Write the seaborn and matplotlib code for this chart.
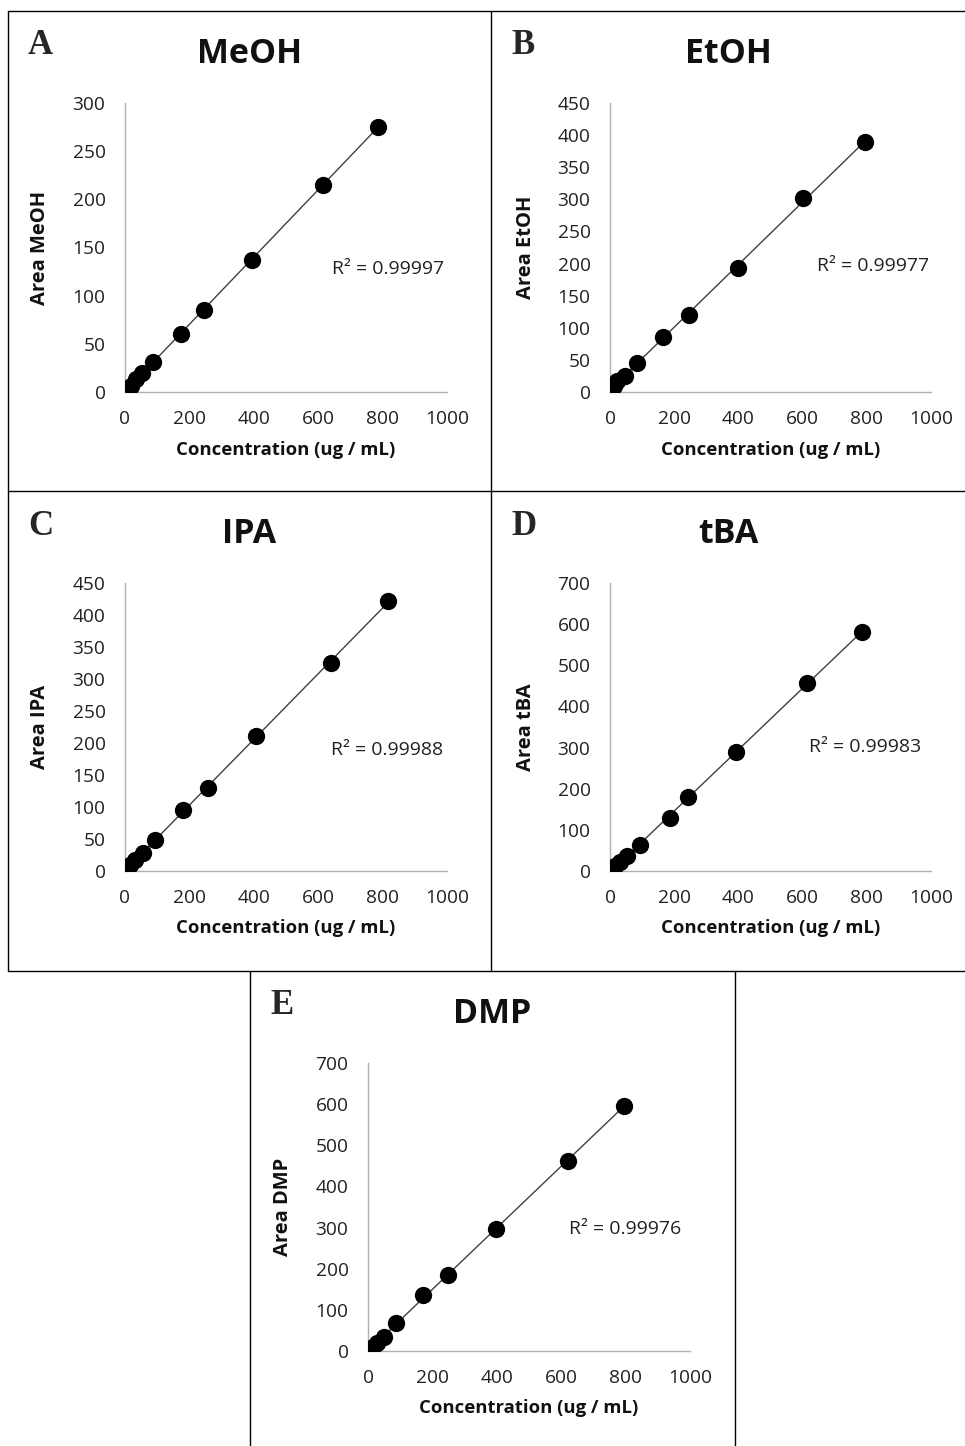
import numpy as np
import pandas as pd
import seaborn as sns
import matplotlib.pyplot as plt
from matplotlib.lines import Line2D

# calibration data
conc_meoh = [18, 33, 53, 87, 174, 244, 393, 614, 785]
area_meoh = [6, 13, 20, 31, 60, 85, 137, 215, 275]

conc_etoh = [12, 22, 47, 84, 165, 246, 399, 601, 794]
area_etoh = [9, 17, 25, 45, 86, 120, 193, 302, 389]

conc_ipa = [16, 31, 56, 93, 180, 258, 407, 640, 817]
area_ipa = [9, 17, 28, 48, 95, 130, 211, 325, 422]

conc_tba = [16, 31, 53, 93, 187, 243, 393, 614, 785]
area_tba = [12, 22, 36, 63, 129, 180, 290, 457, 581]

conc_dmp = [16, 28, 50, 87, 171, 248, 398, 621, 795]
area_dmp = [10, 20, 34, 68, 136, 185, 297, 462, 596]

compounds = ["MeOH", "EtOH", "IPA", "tBA", "DMP"]
letters = ["A", "B", "C", "D", "E"]
r2_labels = ["0.99997", "0.99977", "0.99988", "0.99983", "0.99976"]
y_max = [300, 450, 450, 700, 700]
y_step = [50, 50, 50, 100, 100]

W, H = 965, 1446
sns.set_style("white")
plt.rcParams["font.family"] = ["Open Sans", "DejaVu Sans"]

fig = plt.figure(figsize=(W / 100, H / 100), dpi=100)

# panel boxes (pixel coords): left, top, right, bottom
panels = [(8, 11, 491, 491), (491, 11, 965, 491), (8, 491, 491, 971),
          (491, 491, 965, 971), (250, 971, 735, 1446)]
# axes rectangles in pixels: x0, x1, y_bottom, y_top
axes_px = [(125, 447, 392, 103), (610, 931, 392, 103), (125, 447, 871, 583),
           (610, 931, 871, 583), (368, 690, 1351, 1063)]
r2_pos = [(0.817, 0.426), (0.82, 0.436), (0.814, 0.42), (0.794, 0.43), (0.797, 0.424)]

data = [(conc_meoh, area_meoh), (conc_etoh, area_etoh), (conc_ipa, area_ipa),
        (conc_tba, area_tba), (conc_dmp, area_dmp)]

def fx(p): return p / W
def fy(p): return 1 - p / H

# box borders
border = dict(color="black", lw=1.0, transform=fig.transFigure)
fig.add_artist(Line2D([fx(8), fx(965)], [fy(11), fy(11)], **border))
fig.add_artist(Line2D([fx(8), fx(965)], [fy(491), fy(491)], **border))
fig.add_artist(Line2D([fx(8), fx(965)], [fy(971), fy(971)], **border))
fig.add_artist(Line2D([fx(8), fx(8)], [fy(11), fy(971)], **border))
fig.add_artist(Line2D([fx(491), fx(491)], [fy(11), fy(971)], **border))
fig.add_artist(Line2D([fx(250), fx(250)], [fy(971), fy(1446)], **border))
fig.add_artist(Line2D([fx(735), fx(735)], [fy(971), fy(1446)], **border))

for i, name in enumerate(compounds):
    x0, x1, yb, yt = axes_px[i]
    ax = fig.add_axes([x0 / W, 1 - yb / H, (x1 - x0) / W, (yb - yt) / H])
    df = pd.DataFrame({"conc": data[i][0], "area": data[i][1]})
    sns.regplot(data=df, x="conc", y="area", ax=ax, ci=None,
                scatter_kws=dict(s=155, color="black", alpha=1, linewidths=0, zorder=3),
                line_kws=dict(color="#404040", lw=1.0, zorder=2))
    ax.set_xlim(0, 1000)
    ax.set_ylim(0, y_max[i])
    ax.set_xticks(np.arange(0, 1001, 200))
    ax.set_yticks(np.arange(0, y_max[i] + 1, y_step[i]))
    ax.tick_params(length=0, labelsize=13.8, labelcolor="#222222")
    ax.tick_params(axis="x", pad=13)
    ax.tick_params(axis="y", pad=14)
    sns.despine(ax=ax)
    for s in ("left", "bottom"):
        ax.spines[s].set_color("#b0b0b0")
        ax.spines[s].set_linewidth(1.0)
    ax.set_xlabel("Concentration (ug / mL)", fontsize=13.3, fontweight="bold", color="#111111")
    ax.set_ylabel(f"Area {name}", fontsize=14.5, fontweight="bold", color="#111111")
    ax.xaxis.set_label_coords(0.5, -0.168)
    ax.yaxis.set_label_coords(-0.232, 0.5)
    ax.text(r2_pos[i][0], r2_pos[i][1], f"R² = {r2_labels[i]}", transform=ax.transAxes,
            ha="center", va="center", fontsize=14, color="#222222")

    pl, pt, pr, pb = panels[i]
    fig.text(fx((pl + pr) / 2), fy(pt + 43), name, ha="center", va="center",
             fontsize=24.5, fontweight="bold", color="#111111")
    fig.text(fx(pl + 20), fy(pt + 35), letters[i], ha="left", va="center",
             fontsize=25, fontweight="bold", family="Liberation Serif")

fig.savefig("out.png", dpi=100)
